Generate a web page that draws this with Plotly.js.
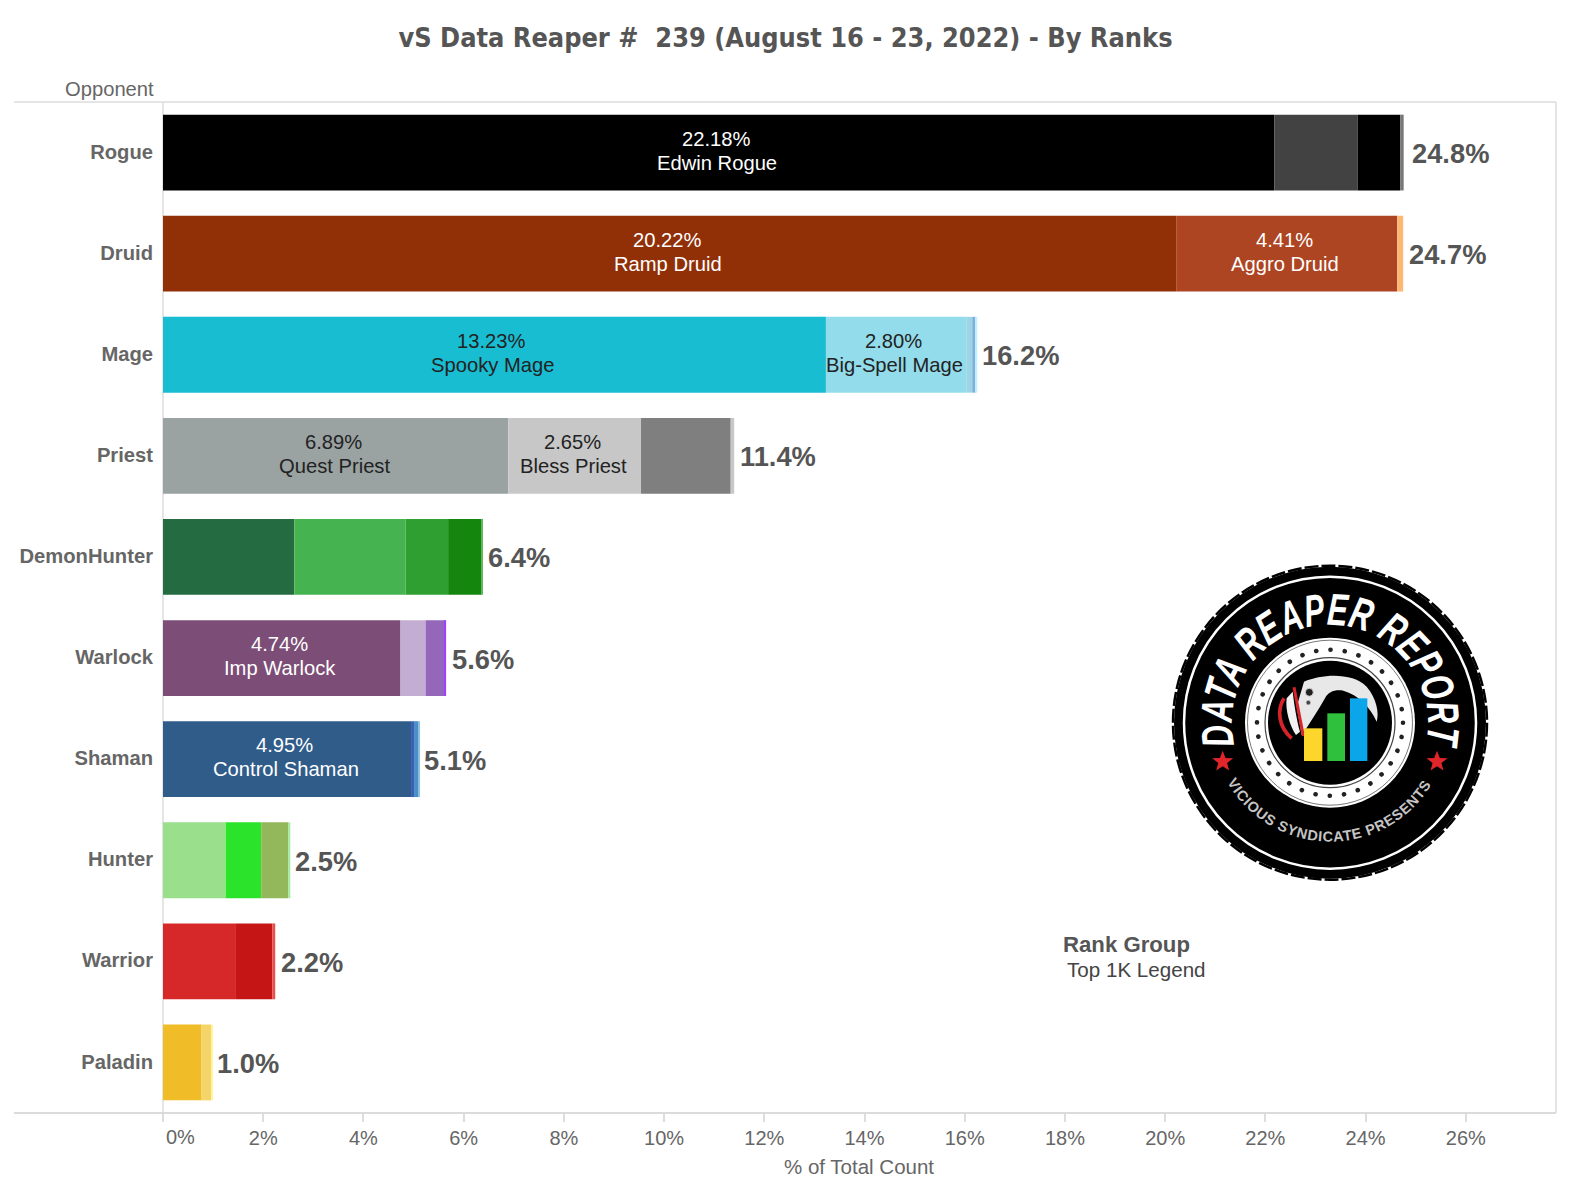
<!DOCTYPE html>
<html>
<head>
<meta charset="utf-8">
<script src="https://cdn.plot.ly/plotly-3.0.1.min.js"></script>
<style>
html,body{margin:0;padding:0;background:#fff}
#wrap{position:relative;width:1570px;height:1200px;overflow:hidden}
#chart{position:absolute;left:0;top:0;width:1570px;height:1200px}
#logo{position:absolute;left:1150px;top:550px;width:360px;height:340px}
</style>
</head>
<body>
<div id="wrap">
<div id="chart"></div>
<svg id="logo" viewBox="1150 550 360 340" xmlns="http://www.w3.org/2000/svg">
  <defs>
    <path id="arcTop" d="M 1234.5 745 A 98 98 0 1 1 1425.5 745"/>
    <path id="arcBot" d="M 1227 782 A 118.7 118.7 0 0 0 1433 782"/>
    <polygon id="star" points="0,-11 2.8,-3.6 10.5,-3.4 4.4,1.4 6.5,8.9 0,4.5 -6.5,8.9 -4.4,1.4 -10.5,-3.4 -2.8,-3.6"/>
  </defs>
  <circle cx="1330" cy="722.7" r="156" fill="#000"/>
  <circle cx="1330" cy="722.7" r="157" fill="none" stroke="#000" stroke-width="2.5" stroke-dasharray="14 3"/>
  <circle cx="1330" cy="722.7" r="146" fill="none" stroke="#fff" stroke-width="2.5"/>
  <text font-family="'Liberation Sans',sans-serif" font-weight="700" font-style="italic" font-size="45" fill="#fff"><textPath href="#arcTop" startOffset="0" textLength="350" lengthAdjust="spacingAndGlyphs">DATA REAPER REPORT</textPath></text>
  <text font-family="'Liberation Sans',sans-serif" font-weight="700" font-size="14.5" fill="#c4c4c4"><textPath href="#arcBot" startOffset="0" textLength="246" lengthAdjust="spacing">VICIOUS SYNDICATE PRESENTS</textPath></text>
  <use href="#star" x="1222.7" y="761.7" fill="#e0262b"/>
  <use href="#star" x="1437" y="761.7" fill="#e0262b"/>
  <circle cx="1330" cy="722.7" r="85" fill="#fff"/>
  <circle cx="1330" cy="722.7" r="82.5" fill="none" stroke="#555" stroke-width="0.8"/>
  <circle cx="1330" cy="722.7" r="73" fill="none" stroke="#222" stroke-width="4.6" stroke-linecap="round" stroke-dasharray="0.1 14.23"/>
  <circle cx="1330" cy="722.7" r="65" fill="#fff" stroke="#444" stroke-width="1.2"/>
  <circle cx="1330" cy="722.7" r="62" fill="#000"/>
  <g transform="translate(1150 550) scale(0.33333)">
    <path d="M 462 395 C 520 370 610 368 650 410 C 680 445 688 490 680 515 C 660 470 625 435 580 422 C 555 418 535 425 525 445 C 505 480 480 520 455 555 L 440 470 Z" fill="#e8e8e8"/>
    <path d="M 410 445 C 405 480 420 530 438 555 L 450 545 C 440 510 432 460 428 425 Z" fill="#f2f2f2"/>
    <circle cx="478" cy="427" r="12" fill="#222" stroke="#ddd" stroke-width="3"/>
    <circle cx="475" cy="458" r="7" fill="#444" stroke="#ddd" stroke-width="2"/>
    <path d="M 402 445 C 380 480 385 530 425 565" fill="none" stroke="#d8232a" stroke-width="11"/>
    <path d="M 432 412 L 460 558" fill="none" stroke="#d8232a" stroke-width="9"/>
    <rect x="462" y="535" width="55" height="98" fill="#fdd62b"/>
    <rect x="532" y="490" width="53" height="143" fill="#2fc13e"/>
    <rect x="600" y="445" width="52" height="188" fill="#0ba6ea"/>
  </g>
</svg>
</div>
<script>
var classes = ["Rogue","Druid","Mage","Priest","DemonHunter","Warlock","Shaman","Hunter","Warrior","Paladin"];
var totals = [24.8,24.7,16.2,11.4,6.4,5.6,5.1,2.5,2.2,1.0];
var rogueValues = [22.18,1.66,0.85,0.07];
var rogueColors = ["#000000","#424242","#000000","#777777"];
var rogueNames = ["Edwin Rogue","","",""];
var druidValues = [20.22,4.41,0.12];
var druidColors = ["#912F07","#AD4522","#FDB774"];
var druidNames = ["Ramp Druid","Aggro Druid",""];
var mageValues = [13.23,2.80,0.12,0.07,0.03];
var mageColors = ["#19BDD2","#92DCEB","#9CD6E6","#7EB0DB","#BDF0FF"];
var mageNames = ["Spooky Mage","Big-Spell Mage","","",""];
var priestValues = [6.89,2.65,1.79,0.07];
var priestColors = ["#9AA2A2","#C7C7C7","#7F7F7F","#C8C8C8"];
var priestNames = ["Quest Priest","Bless Priest","",""];
var dhValues = [2.62,2.22,0.85,0.66,0.02];
var dhColors = ["#246B41","#44B350","#2E9F30","#15860D","#5CB85C"];
var dhNames = ["","","","",""];
var warlockValues = [4.74,0.50,0.38,0.03];
var warlockColors = ["#7C4D76","#C4ADD3","#9467BB","#A040FF"];
var warlockNames = ["Imp Warlock","","",""];
var shamanValues = [4.95,0.06,0.09,0.03];
var shamanColors = ["#305C8A","#3B5FB5","#4A8FC4","#8DBFE0"];
var shamanNames = ["Control Shaman","","",""];
var hunterValues = [1.25,0.71,0.54,0.04];
var hunterColors = ["#9ADF8B","#2CE32C","#93B85C","#A0E8A0"];
var hunterNames = ["","","",""];
var warriorValues = [1.44,0.74,0.06];
var warriorColors = ["#D62829","#C61515","#E85050"];
var warriorNames = ["","",""];
var paladinValues = [0.77,0.19,0.03];
var paladinColors = ["#F0BC27","#F5D46A","#FFF59A"];
var paladinNames = ["","",""];
var xTicks = [0,2,4,6,8,10,12,14,16,18,20,22,24,26];
var xTickText = ["","2%","4%","6%","8%","10%","12%","14%","16%","18%","20%","22%","24%","26%"];
var totalLabelGaps = [6,4,3,4,4,4,2,3,4,2];

var rows = [
  [rogueValues,rogueColors,rogueNames],[druidValues,druidColors,druidNames],
  [mageValues,mageColors,mageNames],[priestValues,priestColors,priestNames],
  [dhValues,dhColors,dhNames],[warlockValues,warlockColors,warlockNames],
  [shamanValues,shamanColors,shamanNames],[hunterValues,hunterColors,hunterNames],
  [warriorValues,warriorColors,warriorNames],[paladinValues,paladinColors,paladinNames]
];
var GREY="#555555", AXIS="#666666", LINE="#dddddd", F="'Liberation Sans',Arial,sans-serif";
var L=163,R=1555.7,T=102,B=1113;
function px(x){return (x-L)/(R-L);}
function py(y){return (B-y)/(B-T);}
var traces=[], anns=[];
rows.forEach(function(r,i){
  var base=0;
  r[0].forEach(function(v,j){
    traces.push({type:"bar",orientation:"h",y:[classes[i]],x:[v],base:[base],width:0.75,
      marker:{color:r[1][j],line:{width:0}},showlegend:false,hoverinfo:"x+y"});
    if(r[2][j]){
      var col=(i===2||i===3)?"#222222":"#ffffff";
      anns.push({x:base+v/2,y:classes[i],xref:"x",yref:"y",yshift:14,xshift:-2.5,showarrow:false,
        text:v.toFixed(2)+"%",font:{family:F,size:20.2,color:col}});
      anns.push({x:base+v/2,y:classes[i],xref:"x",yref:"y",yshift:-10,xshift:-1.5,showarrow:false,
        text:r[2][j],font:{family:F,size:20.2,color:col}});
    }
    base+=v;
  });
  anns.push({x:base,y:classes[i],xref:"x",yref:"y",xanchor:"left",xshift:totalLabelGaps[i],yshift:-1,showarrow:false,
    text:totals[i].toFixed(1)+"%",font:{family:F,size:27.3,color:GREY,weight:700}});
});
anns.push({xref:"paper",yref:"paper",x:px(156),y:py(89),xanchor:"right",yanchor:"middle",showarrow:false,
  text:"Opponent",font:{family:F,size:20.2,color:AXIS}});
anns.push({xref:"x",yref:"paper",x:0,xshift:17,y:py(1137),yanchor:"middle",showarrow:false,
  text:"0%",font:{family:F,size:20,color:AXIS}});
anns.push({xref:"paper",yref:"paper",x:px(1061),y:py(944),xanchor:"left",yanchor:"middle",showarrow:false,
  text:"Rank Group",font:{family:F,size:22.2,color:GREY,weight:700}});
anns.push({xref:"paper",yref:"paper",x:px(1065),y:py(969),xanchor:"left",yanchor:"middle",showarrow:false,
  text:"Top 1K Legend",font:{family:F,size:20.6,color:"#444444"}});
anns.push({xref:"paper",yref:"paper",x:px(859),y:py(1166),xanchor:"center",yanchor:"middle",showarrow:false,
  text:"% of Total Count",font:{family:F,size:20.5,color:AXIS}});

var layout={
  width:1570,height:1200,paper_bgcolor:"#fff",plot_bgcolor:"#fff",
  margin:{l:L,r:1570-R,t:T,b:1200-B,pad:0},barmode:"overlay",showlegend:false,
  title:{text:"vS Data Reaper #&nbsp; 239 (August 16 - 23, 2022) - By Ranks",x:785.5/1570,xanchor:"center",y:1-38/1200,yanchor:"middle",
    font:{family:"'DejaVu Sans Condensed','DejaVu Sans',sans-serif",size:26.9,color:GREY,weight:700}},
  xaxis:{range:[0,27.8],tickmode:"array",tickvals:xTicks,ticktext:xTickText,ticks:"outside",ticklen:8,tickcolor:LINE,tickwidth:1.5,
    showgrid:false,zeroline:false,showline:false,tickfont:{family:F,size:20,color:AXIS},ticklabelstandoff:-1},
  yaxis:{categoryorder:"array",categoryarray:classes.slice().reverse(),type:"category",range:[-0.5,9.5],ticks:"",showgrid:false,zeroline:false,showline:false,
    tickfont:{family:F,size:20.2,color:AXIS,weight:700},ticklabelstandoff:9,ticklabelshift:-1},
  annotations:anns,
  shapes:[
    {type:"line",xref:"paper",yref:"paper",x0:px(14),x1:1,y0:1,y1:1,line:{color:LINE,width:1.5}},
    {type:"line",xref:"paper",yref:"paper",x0:px(14),x1:1,y0:0,y1:0,line:{color:"#cfcfcf",width:1.5}},
    {type:"line",xref:"paper",yref:"paper",x0:1,x1:1,y0:0,y1:1,line:{color:LINE,width:1.5}},
    {type:"line",xref:"paper",yref:"paper",x0:0,x1:0,y0:0,y1:1,line:{color:LINE,width:1.5},layer:"below"}
  ]
};
Plotly.newPlot("chart",traces,layout,{displayModeBar:false,responsive:false});
</script>
</body>
</html>
